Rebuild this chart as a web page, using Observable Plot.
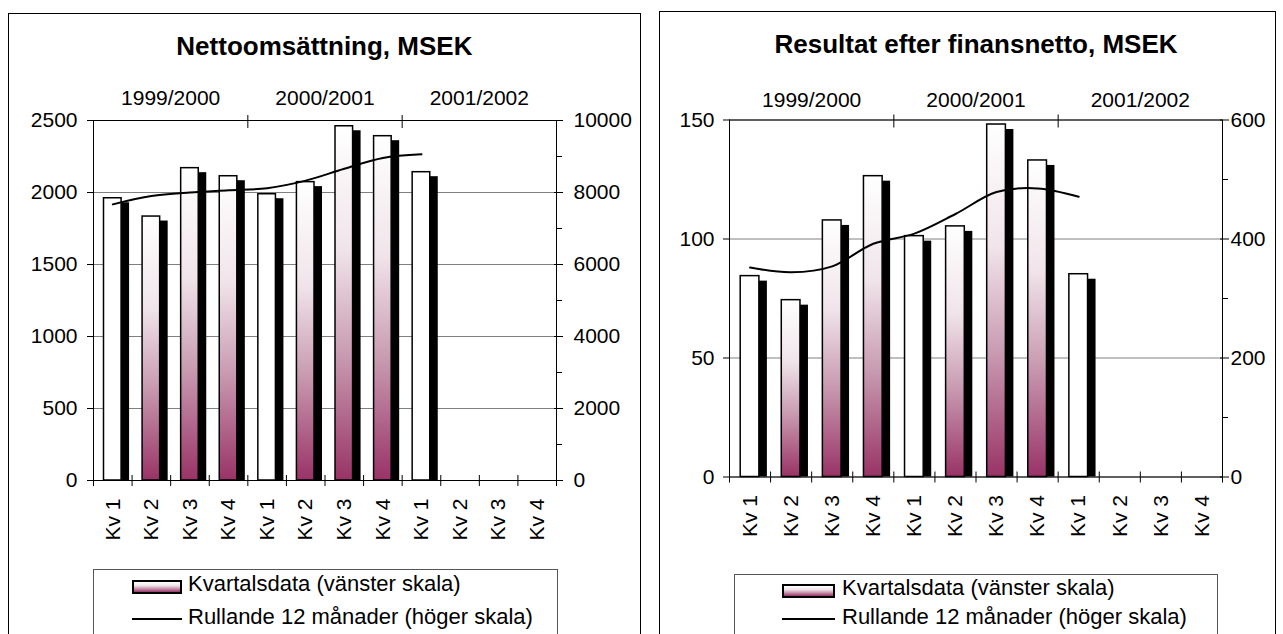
<!DOCTYPE html>
<html><head><meta charset="utf-8">
<script src="https://cdn.jsdelivr.net/npm/d3@7"></script>
<script src="https://cdn.jsdelivr.net/npm/@observablehq/plot@0.6"></script>
<style>
body{margin:0;background:#fff;font-family:"Liberation Sans",Arial,sans-serif;width:1283px;height:634px;overflow:hidden;position:relative}
.box{position:absolute;border:1px solid #000;box-sizing:border-box;height:700px}
.title{position:absolute;font-weight:bold;font-size:26px;line-height:26px;text-align:center;white-space:nowrap;width:600px}
.chart{position:absolute}
.legend{position:absolute;border:1px solid #555;box-sizing:border-box;background:#fff;height:200px}
.legtext{position:absolute;font-size:22px;line-height:22px;white-space:nowrap}
.sw{position:absolute;box-sizing:border-box;border:2px solid #000;background:linear-gradient(#ffffff,#f0e4ea 35%,#c89ab0 65%,#993366)}
.ln{position:absolute;height:2px;background:#000}
</style></head><body>
<script>
// ---- data ----
const quarters = ["Kv 1","Kv 2","Kv 3","Kv 4","Kv 1","Kv 2","Kv 3","Kv 4","Kv 1","Kv 2","Kv 3","Kv 4"];
const years = ["1999/2000","2000/2001","2001/2002"];
const salesQuarterly = [1960, 1833, 2169, 2113, 1988, 2072, 2460, 2391, 2141];
const salesRolling = [7670, 7900, 8000, 8060, 8120, 8330, 8660, 8960, 9060];
const profitQuarterly = [84.4, 74.3, 107.8, 126.4, 101.2, 105.3, 148.1, 133.0, 85.2];
const profitRolling = [352, 344, 354, 392, 409, 442, 479, 485, 471];
const legendLabels = ["Kvartalsdata (vänster skala)", "Rullande 12 månader (höger skala)"];
const titles = ["Nettoomsättning, MSEK", "Resultat efter finansnetto, MSEK"];

const PURPLE = "#993366";
const FONT = "'Liberation Sans', Arial, sans-serif";
const FS = 21;

function el(tag, cls, style, text) {
  const e = document.createElement(tag);
  if (cls) e.className = cls;
  Object.assign(e.style, style);
  if (text != null) e.textContent = text;
  document.body.appendChild(e);
  return e;
}

function makeChart(c) {
  const data = c.quarterly.map((v, i) => ({i, q: quarters[i], v, r: c.rolling[i]}));
  const leftMax = c.leftMax, step = c.step, ratio = c.ratio;
  const majors = d3.range(0, leftMax + step / 2, step);
  const minors = d3.range(step / 2, leftMax, step);
  const gid = "grad_" + c.id;
  const plot = Plot.plot({
    width: c.W, height: c.H,
    marginLeft: c.mL, marginRight: c.mR, marginTop: c.mT, marginBottom: c.mB,
    style: {fontFamily: FONT, fontSize: FS + "px", color: "#000", background: "transparent", overflow: "visible"},
    x: {type: "linear", domain: [0, quarters.length], label: null},
    y: {domain: [0, leftMax], label: null},
    marks: [
      Plot.ruleY(majors, {stroke: "#808080", strokeWidth: 1}),
      // shadow bars
      Plot.rectY(data, {x1: "i", x2: d => d.i + 1, y: "v", fill: "#000",
        insetLeft: c.inset + c.sdx, insetRight: c.inset - c.sdx, insetTop: c.sdy}),
      // front bars: Kv 1 white, others gradient
      Plot.rectY(data, {filter: d => d.q === "Kv 1", x1: "i", x2: d => d.i + 1, y: "v",
        fill: "#ffffff", stroke: "#000", strokeWidth: 1.5, insetLeft: c.inset, insetRight: c.inset}),
      Plot.rectY(data, {filter: d => d.q !== "Kv 1", x1: "i", x2: d => d.i + 1, y: "v",
        fill: `url(#${gid})`, stroke: "#000", strokeWidth: 1.5, insetLeft: c.inset, insetRight: c.inset}),
      // rolling 12 months (right scale)
      Plot.line(data, {x: d => d.i + 0.5, y: d => d.r / ratio, stroke: "#000", strokeWidth: 2, curve: "catmull-rom"}),
      // axis lines
      Plot.ruleY([0], {stroke: "#000"}),
      Plot.ruleY([leftMax], {stroke: "#000"}),
      Plot.ruleX([0, quarters.length], {stroke: "#000"}),
      // left axis
      Plot.axisY({anchor: "left", ticks: majors, tickSize: 6, tickPadding: c.padL, fontSize: FS, tickFormat: d => String(d), label: null}),
      // right axis
      Plot.axisY({anchor: "right", ticks: majors, tickSize: 6, tickPadding: c.padR, fontSize: FS, tickFormat: d => String(d * ratio), label: null}),
      Plot.axisY({anchor: "right", ticks: majors, tickSize: -3, tickFormat: () => "", label: null}),
      Plot.axisY({anchor: "right", ticks: minors, tickSize: 5, tickFormat: () => "", label: null}),
      // bottom axis ticks at category boundaries
      Plot.axisX({anchor: "bottom", ticks: d3.range(quarters.length + 1), tickSize: 6, tickFormat: () => "", label: null}),
      Plot.axisX({anchor: "bottom", ticks: d3.range(quarters.length + 1), tickSize: -5, tickFormat: () => "", label: null}),
      Plot.axisX({anchor: "bottom", ticks: quarters.map((_, i) => i + 0.5), tickSize: 0, tickPadding: 18, tickRotate: -90, fontSize: FS,
        tickFormat: d => quarters[Math.floor(d)], label: null}),
      // top axis: years
      Plot.axisX({anchor: "top", ticks: [4, 8], tickSize: 6, tickFormat: () => "", label: null}),
      Plot.axisX({anchor: "top", ticks: [4, 8], tickSize: -7, tickFormat: () => "", label: null}),
      Plot.axisX({anchor: "top", ticks: years.map((_, k) => 4 * k + 2), tickSize: 0, tickPadding: c.padT, fontSize: FS,
        tickFormat: d => years[(d - 2) / 4], label: null})
    ]
  });
  const ns = "http://www.w3.org/2000/svg";
  const defs = document.createElementNS(ns, "defs");
  defs.innerHTML = `<linearGradient id="${gid}" x1="0" y1="0" x2="0" y2="1">
    <stop offset="0" stop-color="#ffffff"/><stop offset="0.35" stop-color="#f0e4ea"/>
    <stop offset="0.65" stop-color="#c89ab0"/><stop offset="1" stop-color="${PURPLE}"/></linearGradient>`;
  plot.insertBefore(defs, plot.firstChild);
  plot.classList.add("chart");
  plot.style.left = c.left + "px";
  plot.style.top = c.top + "px";
  document.body.appendChild(plot);
}

// boxes
el("div", "box", {left: "8px", top: "13px", width: "633px"});
el("div", "box", {left: "659px", top: "11px", width: "617px"});

// titles
el("div", "title", {left: (324.4 - 300) + "px", top: "33px"}, titles[0]);
el("div", "title", {left: (976 - 300) + "px", top: "31px"}, titles[1]);

makeChart({id: "a", quarterly: salesQuarterly, rolling: salesRolling, leftMax: 2500, step: 500, ratio: 4,
  left: 8, top: 60, W: 632, H: 500, mL: 85, mR: 84, mT: 60, mB: 80,
  inset: 10.5, sdx: 8, sdy: 4.5, padL: 10, padR: 11, padT: 16});
makeChart({id: "b", quarterly: profitQuarterly, rolling: profitRolling, leftMax: 150, step: 50, ratio: 4,
  left: 659, top: 60, W: 617, H: 500, mL: 70, mR: 54, mT: 59.5, mB: 83.5,
  inset: 11.2, sdx: 8, sdy: 5, padL: 9, padR: 2, padT: 13});

// legends
function legend(L) {
  el("div", "legend", {left: L.x + "px", top: L.y + "px", width: L.w + "px"});
  el("div", "sw", {left: L.sx + "px", top: L.sy + "px", width: L.sw + "px", height: L.sh + "px"});
  el("div", "legtext", {left: L.tx + "px", top: L.t1 + "px"}, legendLabels[0]);
  el("div", "ln", {left: L.sx + "px", top: L.ly + "px", width: L.sw + "px"});
  el("div", "legtext", {left: L.tx + "px", top: L.t2 + "px"}, legendLabels[1]);
}
legend({x: 92.7, y: 569.3, w: 465.3, sx: 131.7, sy: 580, sw: 50.6, sh: 14, tx: 188, t1: 573, t2: 606.4, ly: 618});
legend({x: 734, y: 574, w: 483.6, sx: 781.6, sy: 584, sw: 53.4, sh: 14, tx: 842, t1: 577.4, t2: 606.4, ly: 618.3});
</script>
</body></html>
